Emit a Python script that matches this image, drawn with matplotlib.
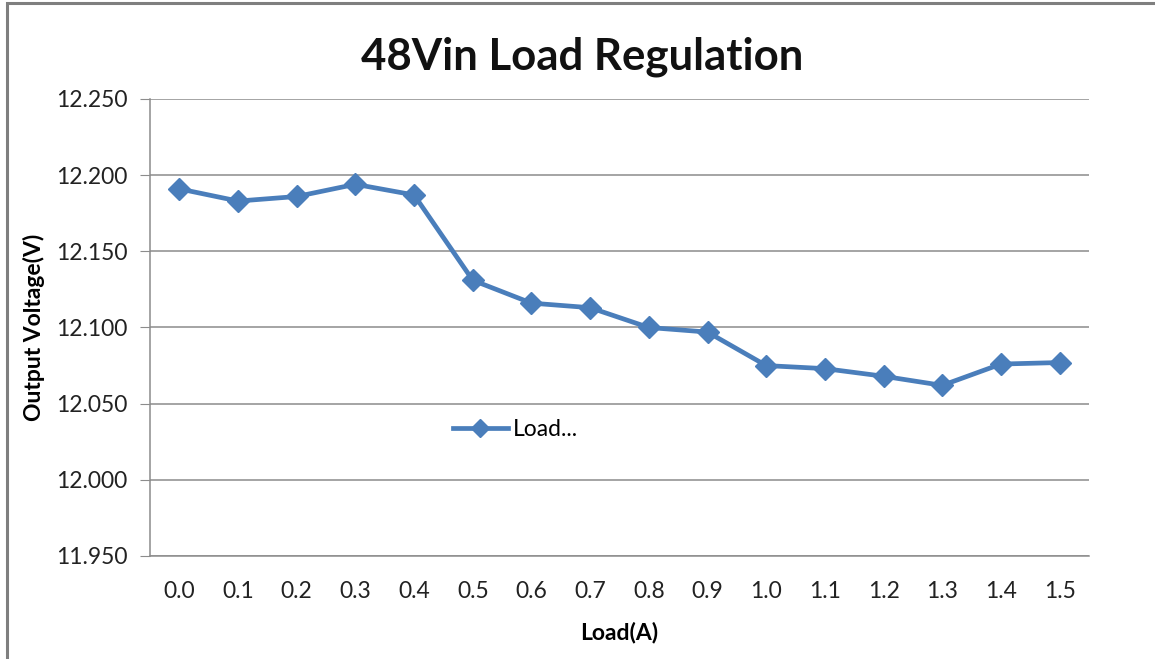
import matplotlib
matplotlib.use("Agg")
import matplotlib.pyplot as plt
from matplotlib.patches import Rectangle

# data
load_labels = ["0.0", "0.1", "0.2", "0.3", "0.4", "0.5", "0.6", "0.7",
               "0.8", "0.9", "1.0", "1.1", "1.2", "1.3", "1.4", "1.5"]
vout = [12.191, 12.183, 12.186, 12.194, 12.187, 12.131, 12.116, 12.113,
        12.100, 12.097, 12.075, 12.073, 12.068, 12.062, 12.076, 12.077]
y_ticks = [11.950, 12.000, 12.050, 12.100, 12.150, 12.200, 12.250]

plt.rcParams['font.family'] = ['Lato', 'DejaVu Sans']

blue = "#4a7ebb"
grid_c = "#8c8c8c"

fig = plt.figure(figsize=(11.55, 6.59), dpi=100)
fig.patches.append(Rectangle((7 / 1155, -0.1), 1.2, 1.1 - 3 / 659,
                             transform=fig.transFigure, fill=False,
                             edgecolor="#7f7f7f", linewidth=2.2))

ax = fig.add_axes([150 / 1155, 1 - 556 / 659, 939 / 1155, 457 / 659])

x = list(range(len(load_labels)))
ax.plot(x, vout, color=blue, linewidth=3.4, marker="D", markersize=11.5,
        label="Load...", zorder=3)

ax.set_xlim(-0.5, len(load_labels) - 0.5)
ax.set_ylim(11.950, 12.250)
ax.set_yticks(y_ticks)
ax.set_yticklabels([f"{v:.3f}" for v in y_ticks])
ax.set_xticks(x)
ax.set_xticklabels(load_labels)

ax.grid(axis="y", color=grid_c, linewidth=1.1)
ax.set_axisbelow(True)
for side in ["top", "right"]:
    ax.spines[side].set_visible(False)
for side in ["left", "bottom"]:
    ax.spines[side].set_color(grid_c)
    ax.spines[side].set_linewidth(1.1)

ax.tick_params(axis="y", length=7, color=grid_c, labelsize=16.5, pad=9,
               labelcolor="#222222")
ax.tick_params(axis="x", length=0, labelsize=16.5, pad=18, labelcolor="#222222")

ax.set_ylabel("Output Voltage(V)", fontsize=16.5, fontweight="bold", labelpad=8)
ax.set_xlabel("Load(A)", fontsize=16.5, fontweight="bold", labelpad=14)

fig.text(582 / 1155, 1 - 57 / 659, "48Vin Load Regulation", fontsize=31.5,
         fontweight="bold", ha="center", va="center", color="#111111")

ax.legend(loc="center", bbox_to_anchor=(0.389, 0.276), frameon=False,
          fontsize=16.5, handlelength=2.4, handletextpad=0.2, markerscale=0.8)

fig.savefig("out.png", dpi=100)
